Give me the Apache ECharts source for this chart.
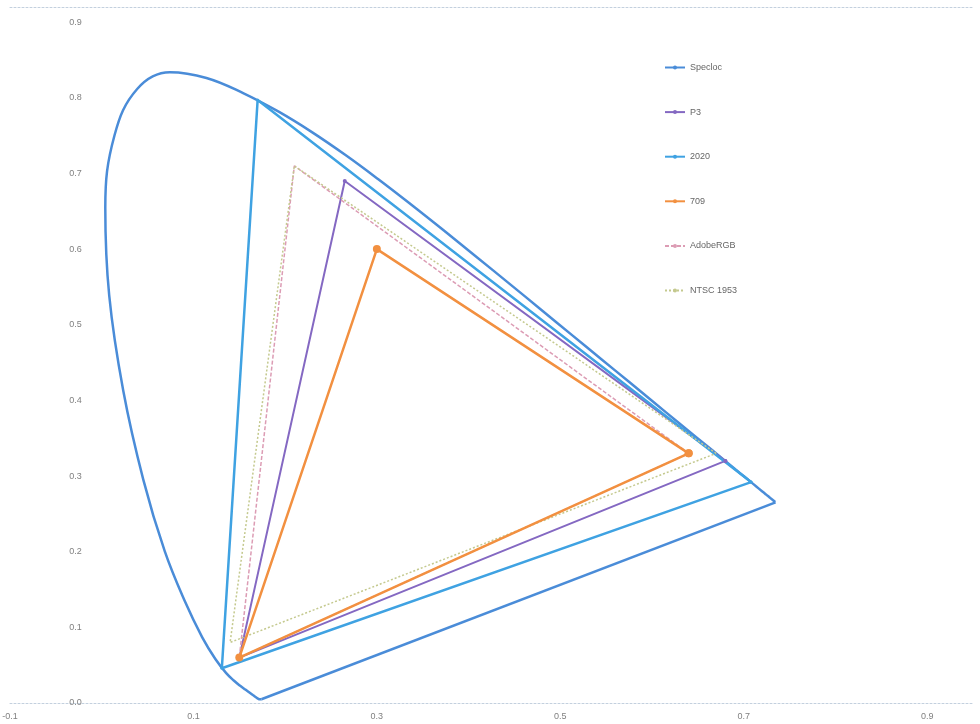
<!DOCTYPE html>
<html><head><meta charset="utf-8">
<script src="https://cdn.jsdelivr.net/npm/echarts@6/dist/echarts.min.js"></script>
<style>html,body{margin:0;padding:0;background:#fff}#c{width:980px;height:724px}</style>
</head><body><div id="c"></div>
<script>
// CIE 1931 spectral locus (380..700 nm)
const locusX = [0.1741,0.1740,0.1738,0.1736,0.1733,0.1730,0.1726,0.1721,0.1714,0.1703,0.1689,0.1669,0.1644,0.1611,0.1566,0.1510,0.1440,0.1355,0.1241,0.1096,0.0913,0.0687,0.0454,0.0235,0.0082,0.0039,0.0139,0.0389,0.0743,0.1142,0.1547,0.1929,0.2296,0.2658,0.3016,0.3373,0.3731,0.4087,0.4441,0.4788,0.5125,0.5448,0.5752,0.6029,0.6270,0.6482,0.6658,0.6801,0.6915,0.7006,0.7079,0.7140,0.7190,0.7230,0.7260,0.7283,0.7300,0.7311,0.7320,0.7327,0.7334,0.7344,0.7347];
const locusY = [0.0050,0.0050,0.0049,0.0049,0.0048,0.0048,0.0048,0.0048,0.0051,0.0058,0.0069,0.0086,0.0109,0.0138,0.0177,0.0227,0.0297,0.0399,0.0578,0.0868,0.1327,0.2007,0.2950,0.4127,0.5384,0.6548,0.7502,0.8120,0.8338,0.8262,0.8059,0.7816,0.7543,0.7243,0.6923,0.6589,0.6245,0.5896,0.5547,0.5202,0.4866,0.4544,0.4242,0.3965,0.3725,0.3514,0.3340,0.3197,0.3083,0.2993,0.2920,0.2859,0.2809,0.2770,0.2740,0.2717,0.2700,0.2689,0.2680,0.2673,0.2666,0.2656,0.2653];
const purpleLineX = [0.7347, 0.1741];
const purpleLineY = [0.2653, 0.0050];
const p3X = [0.680, 0.265, 0.150, 0.680];
const p3Y = [0.320, 0.690, 0.060, 0.320];
const rec2020X = [0.708, 0.170, 0.131, 0.708];
const rec2020Y = [0.292, 0.797, 0.046, 0.292];
const rec709X = [0.640, 0.300, 0.150, 0.640];
const rec709Y = [0.330, 0.600, 0.060, 0.330];
const adobeX = [0.640, 0.210, 0.150, 0.640];
const adobeY = [0.330, 0.710, 0.060, 0.330];
const ntscX = [0.670, 0.210, 0.140, 0.670];
const ntscY = [0.330, 0.710, 0.080, 0.330];
const seriesNames = ['Specloc', 'P3', '2020', '709', 'AdobeRGB', 'NTSC 1953'];
const xTickLabels = ['-0.1', '0.1', '0.3', '0.5', '0.7', '0.9'];
const yTickLabels = ['0.0','0.1','0.2','0.3','0.4','0.5','0.6','0.7','0.8','0.9'];

const zip = (xs, ys) => xs.map((x, i) => [x, ys[i]]);
const chart = echarts.init(document.getElementById('c'));
const labX = {color: '#808080', fontSize: 9, fontFamily: 'Liberation Sans'};
const labY = {color: '#808080', fontSize: 9, fontFamily: 'Liberation Sans'};
function tri(name, xs, ys, color, width, type, sym, size, z) {
  return {name, type: 'line', data: zip(xs, ys), color, z,
    lineStyle: {color, width, type},
    symbol: sym, symbolSize: size, showSymbol: sym !== 'none',
    itemStyle: {color}, emphasis: {disabled: true}, animation: false};
}
const gridLeft = 10, gridRight = 7;
const xMin = -0.1, xMax = 0.95;
const plotW = 980 - gridLeft - gridRight;
const zeroOffset = plotW * (0 - xMin) / (xMax - xMin);
chart.setOption({
  animation: false,
  grid: {left: gridLeft, right: gridRight, top: 7, bottom: 21, containLabel: false, outerBoundsMode: 'none'},
  legend: {
    orient: 'vertical', left: 659, top: 58, itemGap: 35.6, itemWidth: 20, itemHeight: 5,
    data: seriesNames,
    textStyle: {color: '#666', fontSize: 9, fontFamily: 'Liberation Sans'}
  },
  xAxis: [{
    type: 'value', min: xMin, max: xMax, interval: 0.2,
    axisLine: {show: true, onZero: false, lineStyle: {color: '#c3d0de', width: 1, type: [2, 2]}},
    axisTick: {show: false}, splitLine: {show: false},
    axisLabel: Object.assign({margin: 9, showMaxLabel: false,
      formatter: v => { const s = v.toFixed(1); return xTickLabels.includes(s) ? s : ''; }}, labX)
  }, {
    type: 'value', position: 'top', min: xMin, max: xMax,
    axisLine: {show: true, onZero: false, lineStyle: {color: '#c3d0de', width: 1, type: [2, 2]}},
    axisTick: {show: false}, splitLine: {show: false}, axisLabel: {show: false}
  }],
  yAxis: {
    type: 'value', min: 0, max: 0.92, interval: 0.1, position: 'left', offset: -zeroOffset,
    axisLine: {show: false, onZero: false}, axisTick: {show: false}, splitLine: {show: false},
    axisLabel: Object.assign({margin: 20, showMaxLabel: false,
      formatter: v => { const s = v.toFixed(1); return yTickLabels.includes(s) ? s : ''; }}, labY)
  },
  series: [
    Object.assign(tri('Specloc', locusX, locusY, '#4a8cd8', 2.5, 'solid', 'none', 0, 2), {smooth: 0.4}),
    tri('Specloc', purpleLineX, purpleLineY, '#4a8cd8', 2.5, 'solid', 'none', 0, 2),
    tri('P3', p3X, p3Y, '#8468c2', 2, 'solid', 'circle', 4, 3),
    tri('2020', rec2020X, rec2020Y, '#3fa2e2', 2.5, 'solid', 'circle', 3, 3),
    tri('709', rec709X, rec709Y, '#f29040', 2.5, 'solid', 'circle', 8, 5),
    tri('AdobeRGB', adobeX, adobeY, '#dc9cb4', 1.5, [4, 2], 'none', 0, 4),
    tri('NTSC 1953', ntscX, ntscY, '#c4c98e', 1.5, [2, 2], 'none', 0, 4)
  ]
});
</script></body></html>
